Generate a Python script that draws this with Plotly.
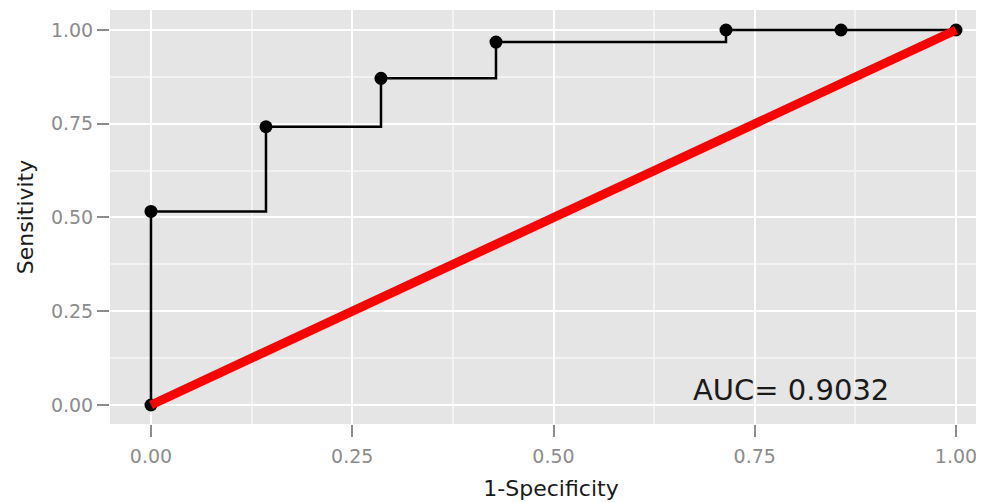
import plotly.graph_objects as go

fpr = [0.0, 0.0, 1/7, 2/7, 3/7, 5/7, 6/7, 1.0]
tpr = [0.0, 16/31, 23/31, 27/31, 30/31, 1.0, 1.0, 1.0]
diag_x = [0.0, 1.0]
diag_y = [0.0, 1.0]
tick_vals = [0.0, 0.25, 0.5, 0.75, 1.0]
tick_text = ["0.00", "0.25", "0.50", "0.75", "1.00"]
auc_label = "AUC= 0.9032"
auc_pos = (0.795, 0.041)

FONT = "DejaVu Sans"

fig = go.Figure()
fig.add_trace(go.Scatter(x=fpr, y=tpr, mode="lines", line=dict(color="black", width=2.5, shape="hv"),
                         showlegend=False, hoverinfo="skip"))
fig.add_trace(go.Scatter(x=fpr, y=tpr, mode="markers", marker=dict(color="black", size=13),
                         showlegend=False))
fig.add_trace(go.Scatter(x=diag_x, y=diag_y, mode="lines", line=dict(color="#ff0000", width=9),
                         showlegend=False))

fig.add_annotation(x=auc_pos[0], y=auc_pos[1], text=auc_label, showarrow=False,
                   font=dict(size=29, color="#1a1a1a", family=FONT),
                   xanchor="center", yanchor="middle")

axis_common = dict(
    tickvals=tick_vals, ticktext=tick_text,
    showgrid=True, gridcolor="white", gridwidth=2,
    zeroline=False, showline=False,
    ticks="outside", ticklen=12, tickwidth=2, tickcolor="#8c8c8c",
    tickfont=dict(size=19, color="#8c8c8c", family=FONT),
    minor=dict(showgrid=True, gridcolor="#f2f2f2", gridwidth=1.5, dtick=0.25, tick0=0.125, ticks=""),
)

fig.update_layout(
    width=984, height=494,
    margin=dict(l=102, r=0, t=2, b=78),
    plot_bgcolor="#e5e5e5", paper_bgcolor="white",
    xaxis=dict(range=[-0.0509, 1.0447], ticklabelstandoff=3,
               title=dict(text="1-Specificity", standoff=14,
               font=dict(size=22, color="#1a1a1a", family=FONT)), **axis_common),
    yaxis=dict(range=[-0.0507, 1.0533], title=dict(text="Sensitivity", standoff=11,
               font=dict(size=22, color="#1a1a1a", family=FONT)), **axis_common),
)

fig.write_html("out.html")
